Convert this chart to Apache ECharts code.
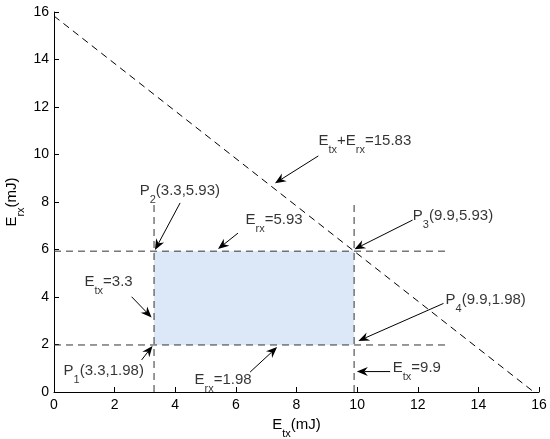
<!DOCTYPE html>
<html>
<head>
<meta charset="utf-8">
<script src="https://cdn.jsdelivr.net/npm/echarts@6/dist/echarts.min.js"></script>
<style>
html,body{margin:0;padding:0;background:#fff;}
#c{width:550px;height:439px;}
</style>
</head>
<body>
<div id="c"></div>
<script>
// ---- data ----
const budget = 15.83;            // E_tx + E_rx = 15.83
const etxValues = [3.3, 9.9];    // E_tx bounds
const erxValues = [1.98, 5.93];  // E_rx bounds
const guideTop = 8;              // vertical guide lines run 0..8
const guideRight = 13;           // horizontal guide lines run 0..13
const xTicks = [0, 2, 4, 6, 8, 10, 12, 14, 16];
const yTicks = [0, 2, 4, 6, 8, 10, 12, 14, 16];

// annotation texts (rich-text markup), text anchor, arrow start, arrow tip (data units)
const annoTexts = [
  '{n|E}{s|tx}{n|+E}{s|rx}{n|=15.83}',
  '{n|P}{s|2}{n|(3.3,5.93)}',
  '{n|E}{s|rx}{n|=5.93}',
  '{n|P}{s|3}{n|(9.9,5.93)}',
  '{n|E}{s|tx}{n|=3.3}',
  '{n|P}{s|1}{n|(3.3,1.98)}',
  '{n|P}{s|4}{n|(9.9,1.98)}',
  '{n|E}{s|tx}{n|=9.9}',
  '{n|E}{s|rx}{n|=1.98}'
];
const annoAnchors = [
  [8.71, 10.57], [2.81, 8.48], [6.30, 7.24], [11.82, 7.41], [0.99, 4.63],
  [0.30, 0.88], [12.9, 3.87], [11.16, 1.01], [4.62, 0.51]
];
const arrowFrom = [
  [8.72, 9.94], [4.16, 7.96], [6.07, 6.69], [11.83, 7.24], [2.56, 4.01],
  [2.89, 1.35], [12.85, 3.73], [11.09, 0.86], [6.47, 0.84]
];
const arrowTo = [
  [7.29, 8.79], [3.33, 5.98], [5.41, 6.02], [9.91, 6.01], [3.22, 3.14],
  [3.25, 1.94], [10.04, 2.15], [9.99, 0.86], [7.36, 1.89]
];

// ---- chart ----
const FONT = '"Liberation Sans", Arial, Helvetica, sans-serif';
const richStyle = {
  n: { fontSize: 15, fontFamily: FONT, color: '#000', lineHeight: 30 },
  s: { fontSize: 11, fontFamily: FONT, color: '#000', lineHeight: 11, padding: [18, 0, 0, 0] }
};
const dash = [7, 5];

const chart = echarts.init(document.getElementById('c'), null, { renderer: 'canvas' });

const guideLines = [
  [[0, budget], [budget, 0]],
  [[etxValues[0], 0], [etxValues[0], guideTop]],
  [[etxValues[1], 0], [etxValues[1], guideTop]],
  [[0, erxValues[0]], [guideRight, erxValues[0]]],
  [[0, erxValues[1]], [guideRight, erxValues[1]]]
];

const series = [];
// shaded feasible region
series.push({
  type: 'custom',
  z: 1,
  silent: true,
  data: [[etxValues[0], erxValues[0], etxValues[1], erxValues[1]]],
  renderItem: function (params, api) {
    const p1 = api.coord([api.value(0), api.value(1)]);
    const p2 = api.coord([api.value(2), api.value(3)]);
    return {
      type: 'rect',
      shape: { x: p1[0], y: p2[1], width: p2[0] - p1[0], height: p1[1] - p2[1] },
      style: { fill: '#dce7f8' }
    };
  }
});
// dashed guide lines
guideLines.forEach(function (seg, i) {
  series.push({
    type: 'line',
    z: 2,
    silent: true,
    symbol: 'none',
    animation: false,
    data: seg,
    lineStyle: { color: i === 0 ? '#000' : '#333', width: 1, type: dash }
  });
});
// arrows
series.push({
  type: 'custom',
  z: 3,
  silent: true,
  data: arrowFrom.map(function (f, i) { return [f[0], f[1], arrowTo[i][0], arrowTo[i][1]]; }),
  renderItem: function (params, api) {
    const a = api.coord([api.value(0), api.value(1)]);
    const b = api.coord([api.value(2), api.value(3)]);
    const dx = b[0] - a[0], dy = b[1] - a[1];
    const len = Math.sqrt(dx * dx + dy * dy);
    const ux = dx / len, uy = dy / len;
    const nx = -uy, ny = ux;
    const hl = 11, hw = 4.5, notch = 7.5;
    const base = [b[0] - ux * hl, b[1] - uy * hl];
    const back = [b[0] - ux * notch, b[1] - uy * notch];
    return {
      type: 'group',
      children: [
        { type: 'line', shape: { x1: a[0], y1: a[1], x2: back[0], y2: back[1] },
          style: { stroke: '#000', lineWidth: 1 } },
        { type: 'polygon', shape: { points: [
            [b[0], b[1]],
            [base[0] + nx * hw, base[1] + ny * hw],
            back,
            [base[0] - nx * hw, base[1] - ny * hw]
          ] }, style: { fill: '#000' } }
      ]
    };
  }
});
// annotation texts
series.push({
  type: 'scatter',
  z: 4,
  silent: true,
  symbolSize: 1,
  itemStyle: { color: 'transparent' },
  data: annoAnchors.map(function (p, i) { return { value: p, label: { formatter: annoTexts[i] } }; }),
  label: {
    show: true,
    position: 'right',
    distance: 0,
    align: 'left',
    verticalAlign: 'middle',
    rich: richStyle
  }
});

chart.setOption({
  animation: false,
  backgroundColor: '#fff',
  grid: { left: 54, right: 11, top: 12, bottom: 47, containLabel: false, outerBoundsMode: 'none' },
  xAxis: {
    type: 'value', min: xTicks[0], max: xTicks[xTicks.length - 1], interval: 2,
    axisLine: { show: true, lineStyle: { color: '#000', width: 1 } },
    axisTick: { show: true, inside: true, length: 5, lineStyle: { color: '#000' } },
    axisLabel: { color: '#000', fontSize: 14, fontFamily: FONT, margin: 6 },
    splitLine: { show: false },
    name: '{n|E}{s|tx}{n|(mJ)}',
    nameLocation: 'middle',
    nameGap: 18,
    nameMoveOverlap: false,
    nameTextStyle: { rich: richStyle }
  },
  yAxis: {
    type: 'value', min: yTicks[0], max: yTicks[yTicks.length - 1], interval: 2,
    axisLine: { show: true, lineStyle: { color: '#000', width: 1 } },
    axisTick: { show: true, inside: true, length: 5, lineStyle: { color: '#000' } },
    axisLabel: { color: '#000', fontSize: 14, fontFamily: FONT, margin: 5 },
    splitLine: { show: false },
    name: '{n|E}{s|rx}{n|(mJ)}',
    nameLocation: 'middle',
    nameGap: 27,
    nameRotate: 90,
    nameMoveOverlap: false,
    nameTextStyle: { rich: richStyle }
  },
  series: series
});
</script>
</body>
</html>
